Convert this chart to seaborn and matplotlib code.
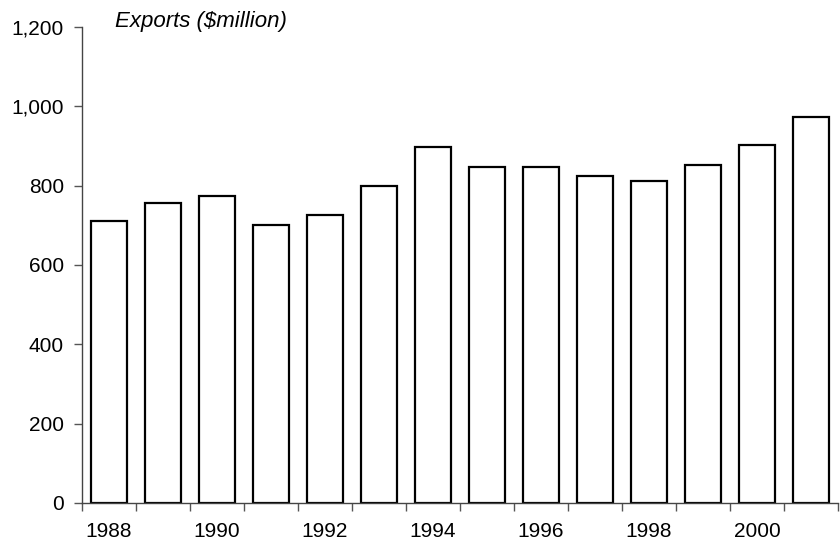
import matplotlib
matplotlib.use("Agg")
import matplotlib.pyplot as plt
import seaborn as sns
import pandas as pd
import numpy as np

years = [1988, 1989, 1990, 1991, 1992, 1993, 1994, 1995, 1996, 1997, 1998, 1999, 2000, 2001]
exports = [710, 757, 775, 700, 725, 800, 897, 847, 847, 825, 812, 852, 902, 972]
tick_labels = ["1988", "", "1990", "", "1992", "", "1994", "", "1996", "", "1998", "", "2000", ""]

sns.set_style("white")
plt.rcParams['font.family'] = ['Liberation Sans', 'DejaVu Sans']
plt.rcParams['text.color'] = 'black'
plt.rcParams['xtick.color'] = 'black'
plt.rcParams['ytick.color'] = 'black'

df = pd.DataFrame({"year": [str(y) for y in years], "exports": exports})

fig = plt.figure(figsize=(8.4, 5.44), dpi=100)
ax = fig.add_axes([82/840, 1-503/544, 756/840, 476/544])
sns.barplot(data=df, x="year", y="exports", ax=ax, color="white",
            edgecolor="black", linewidth=1.6, width=0.66, saturation=1)

ax.set_xlim(-0.5, len(years) - 0.5)
ax.set_ylim(0, 1200)
ax.set_yticks(range(0, 1201, 200))
ax.set_yticklabels([f"{v:,}" for v in range(0, 1201, 200)], fontsize=15)
ax.set_xticks(range(len(years)))
ax.set_xticklabels(tick_labels, fontsize=15)
ax.tick_params(axis='x', which='major', bottom=True, length=0, pad=14)
ax.set_xticks(np.arange(-0.5, len(years), 1.0), minor=True)
ax.tick_params(axis='x', which='minor', bottom=True, length=6, width=1, color="#555555", direction="out")
ax.tick_params(axis='y', left=True, length=6, width=1, color="#555555", labelcolor="black", direction="out", pad=7)
ax.set_xlabel("")
ax.set_ylabel("")
for s in ["top", "right"]:
    ax.spines[s].set_visible(False)
for s in ["left", "bottom"]:
    ax.spines[s].set_color("#444444")
    ax.spines[s].set_linewidth(1)

fig.text(115/840, 1-22/544, "Exports ($million)", fontsize=16, style="italic", va="center", ha="left")

fig.savefig("out.png", dpi=100)
